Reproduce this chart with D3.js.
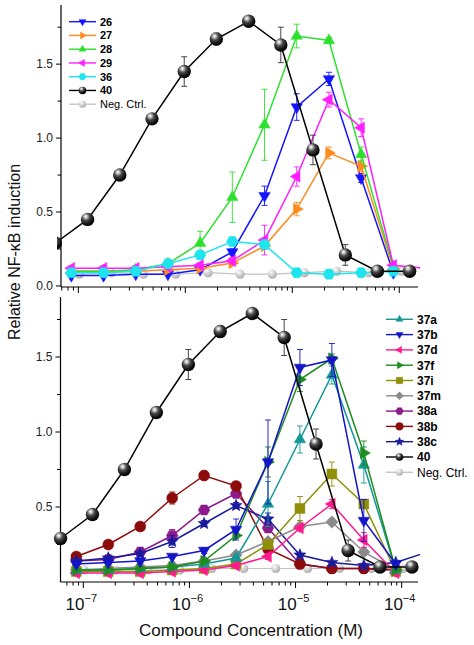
<!DOCTYPE html>
<html><head><meta charset="utf-8">
<script src="https://cdn.jsdelivr.net/npm/d3@7"></script>
<style>body{margin:0;background:#fff}svg{display:block;font-family:Arial,"Liberation Sans",sans-serif}</style>
</head><body><svg id="c" width="474" height="645"></svg>
<script>
// ---------- data ----------
const concCmpd = [8.6e-8, 1.72e-7, 3.44e-7, 6.88e-7, 1.375e-6, 2.75e-6, 5.5e-6, 1.1e-5, 2.2e-5, 4.4e-5, 8.8e-5];
const concCmpdExt = [8.6e-8, 1.72e-7, 3.44e-7, 6.88e-7, 1.375e-6, 2.75e-6, 5.5e-6, 1.1e-5, 2.2e-5, 4.4e-5, 8.8e-5, 1.76e-4];
const conc40   = [6.1e-8, 1.22e-7, 2.44e-7, 4.88e-7, 9.77e-7, 1.95e-6, 3.91e-6, 7.81e-6, 1.56e-5, 3.13e-5, 6.25e-5, 1.25e-4];
const concNeg  = [1.02e-7, 2.03e-7, 4.06e-7, 8.13e-7, 1.63e-6, 3.25e-6, 6.5e-6, 1.3e-5, 2.6e-5, 5.2e-5, 1.04e-4];

const v40  = [0.29, 0.45, 0.75, 1.13, 1.45, 1.67, 1.79, 1.63, 0.92, 0.21, 0.10, 0.10];
const e40  = [0, 0.02, 0.02, 0.02, 0.10, 0.04, 0.02, 0.12, 0.10, 0.07, 0.02, 0.02];
const vNeg = [0.08, 0.09, 0.08, 0.08, 0.09, 0.08, 0.08, 0.09, 0.10, 0.09, 0.10];
const vNegB = [0.08, 0.08, 0.08, 0.08, 0.09, 0.09, 0.09, 0.09, 0.09, 0.09, 0.09];

// top panel compounds
const v26 = [0.07, 0.07, 0.08, 0.08, 0.11, 0.23, 0.61, 1.21, 1.40, 0.73, 0.09];
const e26 = [0, 0, 0, 0, 0, 0.02, 0.065, 0.09, 0.045, 0.03, 0];
const v27 = [0.10, 0.10, 0.10, 0.11, 0.12, 0.155, 0.27, 0.52, 0.90, 0.81, 0.12];
const e27 = [0, 0, 0, 0, 0, 0, 0.02, 0.045, 0.04, 0.04, 0];
const v28 = [0.10, 0.10, 0.11, 0.15, 0.29, 0.60, 1.09, 1.69, 1.66, 0.89, 0.13];
const e28 = [0, 0, 0, 0.02, 0.08, 0.17, 0.24, 0.08, 0.02, 0.05, 0.01];
const v29 = [0.12, 0.12, 0.12, 0.13, 0.14, 0.17, 0.31, 0.74, 1.26, 1.07, 0.14, 0.12];
const e29 = [0, 0, 0, 0, 0, 0.02, 0.10, 0.065, 0.05, 0.06, 0, 0];
const v36 = [0.09, 0.09, 0.10, 0.15, 0.21, 0.30, 0.28, 0.09, 0.08, 0.09, 0.10];
const e36 = [0, 0, 0, 0, 0, 0.03, 0.02, 0, 0, 0, 0];

// bottom panel compounds
const v37a = [0.08, 0.08, 0.09, 0.10, 0.12, 0.16, 0.52, 0.95, 1.38, 0.78, 0.08];
const e37a = [0, 0, 0, 0, 0, 0.01, 0.15, 0.09, 0.06, 0.12, 0];
const v37b = [0.12, 0.13, 0.14, 0.17, 0.21, 0.35, 0.80, 1.43, 1.48, 0.41, 0.12];
const e37b = [0, 0, 0, 0, 0.02, 0.07, 0.28, 0.12, 0.11, 0.14, 0];
const v37d = [0.06, 0.06, 0.06, 0.07, 0.08, 0.11, 0.17, 0.36, 0.52, 0.28, 0.06];
const e37d = [0, 0, 0, 0, 0, 0, 0.02, 0.02, 0.03, 0.05, 0];
const v37f = [0.08, 0.08, 0.09, 0.10, 0.14, 0.31, 0.80, 1.35, 1.49, 0.86, 0.08];
const e37f = [0, 0, 0, 0, 0, 0.02, 0.10, 0.08, 0.03, 0.08, 0];
const v37i = [0.07, 0.07, 0.07, 0.08, 0.09, 0.12, 0.25, 0.49, 0.72, 0.52, 0.07];
const e37i = [0, 0, 0, 0, 0, 0, 0.02, 0.08, 0.08, 0.03, 0];
const v37m = [0.08, 0.09, 0.10, 0.11, 0.14, 0.18, 0.27, 0.37, 0.40, 0.20, 0.08];
const e37m = [0, 0, 0, 0, 0, 0.02, 0.02, 0.02, 0.02, 0.02, 0];
const v38a = [0.14, 0.15, 0.20, 0.31, 0.48, 0.59, 0.36, 0.12, 0.09, 0.09, 0.08];
const e38a = [0, 0, 0, 0.04, 0.02, 0.02, 0.02, 0, 0, 0, 0];
const v38b = [0.17, 0.25, 0.37, 0.56, 0.71, 0.64, 0.22, 0.12, 0.09, 0.09, 0.08];
const e38b = [0, 0, 0.01, 0.04, 0.03, 0.02, 0.03, 0.02, 0, 0, 0];
const v38c = [0.14, 0.16, 0.19, 0.27, 0.39, 0.51, 0.42, 0.18, 0.13, 0.11, 0.13, 0.20];
const e38c = [0, 0, 0, 0.04, 0.02, 0.02, 0.04, 0, 0, 0, 0, 0];

const yMajorTop = [0, 0.5, 1.0, 1.5];
const yMajorBot = [0.5, 1.0, 1.5];
const yMinor = [0.25, 0.75, 1.25, 1.75];
const xDecades = [-7, -6, -5, -4];

// ---------- setup ----------
const svg = d3.select("#c");
const defs = svg.append("defs");
function grad(id, stops) {
  const g = defs.append("radialGradient").attr("id", id)
    .attr("cx", "0.38").attr("cy", "0.32").attr("r", "0.72").attr("fx", "0.36").attr("fy", "0.28");
  stops.forEach(s => g.append("stop").attr("offset", s[0]).attr("stop-color", s[1]));
}
grad("sphB", [[0, "#ffffff"], [0.14, "#cfcfcf"], [0.4, "#4a4a4a"], [0.75, "#111"], [1, "#000"]]);
grad("sphG", [[0, "#ffffff"], [0.3, "#e2e2e2"], [1, "#a8a8a8"]]);

const pTop = {
  x: d3.scaleLog().domain([Math.pow(10, -7.162), Math.pow(10, -3.825)]).range([61, 418]),
  y: d3.scaleLinear().domain([-0.007, 1.9]).range([287, 5]),
  x0: 61, x1: 418, clip: "clipT"
};
const pBot = {
  x: d3.scaleLog().domain([Math.pow(10, -7.215), Math.pow(10, -3.846)]).range([60.5, 418]),
  y: d3.scaleLinear().domain([0, 1.9]).range([582, 297]),
  x0: 60.5, x1: 418, clip: "clipB"
};

function markerPath(shape, r) {
  const s3 = Math.sqrt(3) / 2;
  const poly = pts => "M" + pts.map(p => p[0].toFixed(2) + "," + p[1].toFixed(2)).join("L") + "Z";
  switch (shape) {
    case "up": return poly([[0, -r], [r * s3, r / 2], [-r * s3, r / 2]]);
    case "down": return poly([[0, r], [r * s3, -r / 2], [-r * s3, -r / 2]]);
    case "left": return poly([[-r, 0], [r / 2, -r * s3], [r / 2, r * s3]]);
    case "right": return poly([[r, 0], [-r / 2, -r * s3], [-r / 2, r * s3]]);
    case "square": { const a = r * 0.8; return poly([[-a, -a], [a, -a], [a, a], [-a, a]]); }
    case "diamond": return poly([[0, -r], [r, 0], [0, r], [-r, 0]]);
    case "hex": return poly(d3.range(6).map(i => [r * Math.cos(Math.PI / 3 * i), r * Math.sin(Math.PI / 3 * i)]));
    case "star": return poly(d3.range(10).map(i => {
      const a = -Math.PI / 2 + i * Math.PI / 5, rr = i % 2 ? r * 0.45 : r;
      return [rr * Math.cos(a), rr * Math.sin(a)];
    }));
  }
  return null;
}
function drawMarker(g, shape, cx, cy, r, color) {
  if (shape === "sphere" || shape === "gsphere" || shape === "circle") {
    g.append("circle").attr("cx", cx).attr("cy", cy).attr("r", r)
      .attr("fill", shape === "sphere" ? "url(#sphB)" : shape === "gsphere" ? "url(#sphG)" : color)
      .attr("stroke", shape === "circle" ? color : "none").attr("stroke-width", 0.5);
  } else {
    g.append("path").attr("transform", `translate(${cx},${cy})`).attr("d", markerPath(shape, r))
      .attr("fill", color).attr("stroke", color).attr("stroke-width", 0.5);
  }
}

function drawAxes(p, majors, withLabels) {
  const g = svg.append("g").attr("stroke", "#000").attr("fill", "none");
  const yb = p.y.range()[0], yt = p.y.range()[1];
  g.append("line").attr("x1", p.x0).attr("x2", p.x0).attr("y1", yt).attr("y2", yb).attr("stroke-width", 1.2);
  g.append("line").attr("x1", p.x0).attr("x2", p.x1).attr("y1", yb).attr("y2", yb).attr("stroke-width", 1.2);
  majors.forEach(v => {
    g.append("line").attr("x1", p.x0 - 5).attr("x2", p.x0).attr("y1", p.y(v)).attr("y2", p.y(v));
    svg.append("text").attr("x", p.x0 - 8).attr("y", p.y(v)).attr("dy", "0.35em")
      .attr("text-anchor", "end").attr("font-size", 12).attr("fill", "#222").text(v.toFixed(1));
  });
  yMinor.forEach(v => {
    g.append("line").attr("x1", p.x0 - 3.5).attr("x2", p.x0).attr("y1", p.y(v)).attr("y2", p.y(v));
  });
  const [d0, d1] = p.x.domain();
  for (let e = -8; e <= -4; e++) {
    for (let m = 1; m <= 9; m++) {
      const v = m * Math.pow(10, e);
      if (v < d0 || v > d1) continue;
      const xx = p.x(v);
      g.append("line").attr("x1", xx).attr("x2", xx).attr("y1", yb).attr("y2", yb + (m === 1 ? 6 : 3.5));
    }
  }
  if (withLabels) {
    xDecades.forEach(e => {
      const t = svg.append("text").attr("x", p.x(Math.pow(10, e)) - 2).attr("y", 610)
        .attr("text-anchor", "middle").attr("fill", "#111");
      t.append("tspan").attr("font-size", 17).text("10");
      t.append("tspan").attr("font-size", 11).attr("dy", -8).text("\u2212" + (-e));
    });
  }
}

function drawSeries(p, list) {
  list.forEach(s => {
    const pts = s.c.map((c, i) => ({ c, v: s.v[i], e: s.e ? s.e[i] : 0 }));
    const g = svg.append("g").attr("clip-path", "url(#" + p.clip + ")");
    g.append("path").datum(pts).attr("fill", "none").attr("stroke", s.color).attr("stroke-width", s.lw || 1.5)
      .attr("d", d3.line().x(d => p.x(d.c)).y(d => p.y(d.v)));
    pts.filter(d => d.e > 0).forEach(d => {
      const xx = p.x(d.c), ya = p.y(d.v + d.e), yb = p.y(d.v - d.e);
      const ec = s.ecolor || s.color;
      g.append("line").attr("x1", xx).attr("x2", xx).attr("y1", ya).attr("y2", yb).attr("stroke", ec).attr("stroke-width", 0.9);
      [ya, yb].forEach(yy => g.append("line").attr("x1", xx - 3).attr("x2", xx + 3).attr("y1", yy).attr("y2", yy).attr("stroke", ec).attr("stroke-width", 0.9));
    });
    pts.forEach(d => drawMarker(g, s.shape, p.x(d.c), p.y(d.v), s.r, s.color));
  });
}

function drawLegend(list, x0, y0, dy, fs) {
  list.forEach((s, i) => {
    const y = y0 + i * dy;
    svg.append("line").attr("x1", x0).attr("x2", x0 + 27).attr("y1", y).attr("y2", y)
      .attr("stroke", s.color).attr("stroke-width", 1.4);
    drawMarker(svg, s.shape, x0 + 13.5, y, s.lr, s.color);
    svg.append("text").attr("x", x0 + 31).attr("y", y).attr("dy", "0.36em").attr("font-size", fs)
      .attr("font-weight", s.bold === false ? "normal" : "bold").attr("fill", "#000").text(s.name);
  });
}

defs.append("clipPath").attr("id", "clipT").append("rect").attr("x", 57).attr("y", 0).attr("width", 363).attr("height", 292);
defs.append("clipPath").attr("id", "clipB").append("rect").attr("x", 52).attr("y", 292).attr("width", 368).attr("height", 300);

const neg = { name: "Neg. Ctrl.", c: concNeg, v: vNeg, color: "#c4c4c4", shape: "gsphere", r: 4.6, lr: 3.5, lw: 1.2, bold: false };
const s40 = { name: "40", c: conc40, v: v40, e: e40, color: "#000", ecolor: "#333", shape: "sphere", r: 6.7, lr: 3.8, lw: 1.5 };

const topList = [
  { name: "26", c: concCmpd, v: v26, e: e26, color: "#1414ff", shape: "down", r: 6.6, lr: 4 },
  { name: "27", c: concCmpd, v: v27, e: e27, color: "#ff8a1e", shape: "right", r: 6.6, lr: 4 },
  { name: "28", c: concCmpd, v: v28, e: e28, color: "#2ee02e", shape: "up", r: 6.6, lr: 4 },
  { name: "29", c: concCmpdExt, v: v29, e: e29, color: "#ff1eff", shape: "left", r: 6.6, lr: 4 },
  { name: "36", c: concCmpd, v: v36, e: e36, color: "#1ee4ee", shape: "hex", r: 5.8, lr: 3.6 },
  s40, neg
];
const botList = [
  { name: "37a", c: concCmpd, v: v37a, e: e37a, color: "#129696", shape: "up", r: 6.6, lr: 4 },
  { name: "37b", c: concCmpd, v: v37b, e: e37b, color: "#1414c8", shape: "down", r: 6.6, lr: 4 },
  { name: "37d", c: concCmpd, v: v37d, e: e37d, color: "#ff1a8c", shape: "left", r: 6.6, lr: 4 },
  { name: "37f", c: concCmpd, v: v37f, e: e37f, color: "#1e8c1e", shape: "right", r: 6.6, lr: 4 },
  { name: "37i", c: concCmpd, v: v37i, e: e37i, color: "#8f8f0a", shape: "square", r: 6.2, lr: 4 },
  { name: "37m", c: concCmpd, v: v37m, e: e37m, color: "#8a8a8a", shape: "diamond", r: 6.2, lr: 4 },
  { name: "38a", c: concCmpd, v: v38a, e: e38a, color: "#8c1a8c", shape: "hex", r: 5.8, lr: 3.8 },
  { name: "38b", c: concCmpd, v: v38b, e: e38b, color: "#8c0c0c", shape: "circle", r: 5.5, lr: 3.8 },
  { name: "38c", c: concCmpdExt, v: v38c, e: e38c, color: "#1a1a9e", shape: "star", r: 6.4, lr: 4.4 },
  s40, Object.assign({}, neg, { v: vNegB })
];

drawAxes(pTop, yMajorTop, false);
drawAxes(pBot, yMajorBot, true);

drawSeries(pTop, [neg, topList[0], topList[1], topList[2], topList[3], topList[4], s40]);
drawSeries(pBot, [botList[10], botList[6], botList[7], botList[8], botList[5], botList[4], botList[2], botList[0], botList[3], botList[1], s40]);

drawLegend(topList, 69, 21.7, 13.75, 11);
drawLegend(botList, 386, 319.3, 15.3, 12);

svg.append("text").attr("x", 251).attr("y", 636).attr("text-anchor", "middle").attr("font-size", 17)
  .attr("fill", "#111").text("Compound Concentration (M)");
svg.append("text").attr("transform", "translate(20,252) rotate(-90)").attr("text-anchor", "middle")
  .attr("font-size", 16).attr("fill", "#111").text("Relative NF-\u03baB induction");
</script></body></html>
